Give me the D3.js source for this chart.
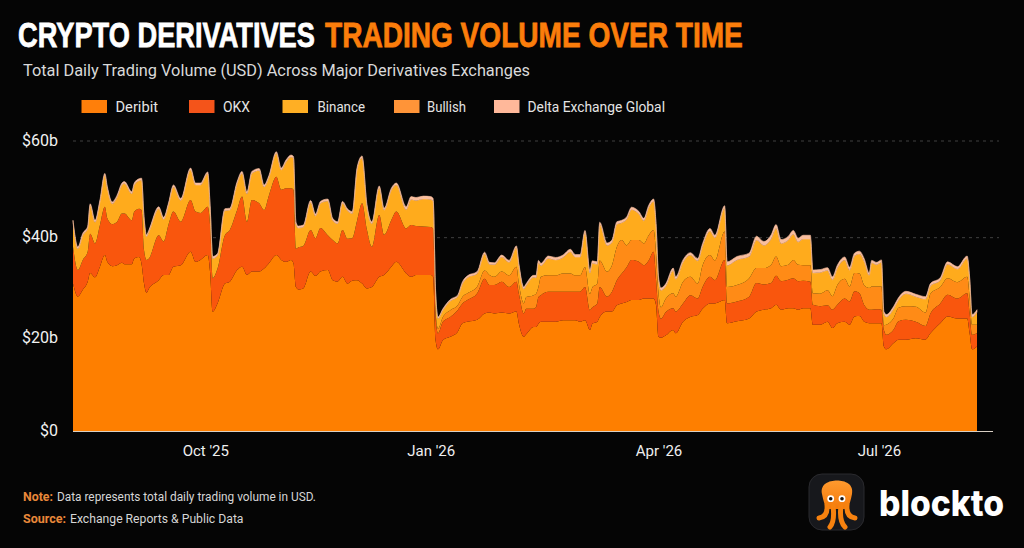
<!DOCTYPE html>
<html><head><meta charset="utf-8">
<script src="https://cdn.jsdelivr.net/npm/d3@7/dist/d3.min.js"></script>
<style>html,body{margin:0;padding:0;background:#050505;overflow:hidden}svg{display:block}</style>
</head><body><svg id="c" width="1024" height="548"></svg>
<script>
// days since 7 Aug 2025
const days=[0,2,4,6,7,9,11,13,14,16,
18,20,21,24,25,27,28,29,30,31,
35,37,39,41,44,48,50,52,55,56,
57,59,62,64,67,69,71,73,76,78,
80,83,85,87,89,90,91,92,94,97,
99,101,104,106,108,110,112,114,116,118,
120,122,125,127,130,132,136,138,140,143,
146,147,148,149,151,154,157,159,161,165,
168,170,172,175,178,181,182,184,185,188,
189,190,191,194,197,200,203,205,207,209,
211,212,214,215,218,220,222,224,226,228,
231,233,235,237,238,239,240,242,245,246,
249,252,255,257,260,262,266,267,271,276,
279,282,285,287,289,292,294,296,298,301,
302,305,308,310,312,315,317,319,321,323,
325,326,328,330,331,332,335,337,340,344,
348,350,354,357,361,365,366,367,369];
const deribit=[30.5,27.8,29.2,30.9,32.7,31.8,34.0,36.4,35.0,34.1,
34.3,34.8,34.5,34.5,35.7,36.0,34.5,30.5,28.6,29.5,
31.2,32.3,32.3,34.0,34.3,37.1,35.0,35.4,36.4,32.6,
24.7,26.4,30.5,30.9,33.3,34.0,32.3,33.0,33.0,33.6,
34.7,36.4,35.4,35.0,35.4,34.7,29.8,29.3,29.5,33.0,
32.1,33.0,33.3,31.2,30.9,31.9,30.5,31.1,31.2,30.5,
29.5,29.8,31.9,32.3,34.0,35.0,32.6,31.9,32.3,32.3,
32.3,31.9,18.8,16.9,18.8,19.5,20.5,22.3,22.6,23.0,
24.3,24.5,24.3,24.5,24.3,24.7,22.2,19.5,20.0,21.5,
21.5,22.2,22.6,22.6,22.6,22.9,22.9,22.9,22.6,22.9,
20.9,22.2,22.6,23.6,24.7,24.7,26.0,26.4,26.7,27.1,
27.1,27.4,27.4,27.4,26.0,19.5,19.3,19.8,20.9,20.2,
22.6,23.6,24.0,25.3,26.4,26.4,27.1,22.3,22.7,23.3,
24.7,25.1,25.4,26.1,25.1,25.4,25.4,25.1,25.4,25.4,
22.0,22.0,22.6,21.3,22.3,22.6,22.0,23.7,23.8,22.6,
22.3,22.3,22.3,22.3,17.5,16.9,18.2,18.9,18.9,19.2,
18.9,20.2,22.3,23.7,23.3,23.3,20.2,16.9,17.5];
const okx=[7.6,5.5,6.2,6.2,8.1,7.0,8.6,10.0,9.0,8.7,
9.0,10.2,10.5,9.1,9.7,10.0,11.2,6.9,6.8,6.2,
9.3,6.9,10.4,11.4,9.0,10.7,10.4,9.7,10.0,9.7,
6.9,7.2,10.0,10.7,12.4,14.5,11.0,14.8,14.1,12.1,
14.1,16.2,14.5,15.2,14.8,15.2,7.9,8.7,8.8,8.6,
7.8,9.0,7.2,8.3,7.9,9.7,9.3,8.8,12.4,16.6,
12.1,8.3,12.8,8.3,9.7,10.4,9.3,10.7,10.1,10.0,
9.9,10.0,4.8,3.3,3.8,4.1,4.5,4.1,4.5,5.5,
7.2,5.7,5.9,6.4,5.5,6.2,6.2,4.8,5.3,3.8,
4.1,5.5,5.5,6.2,6.2,5.9,5.9,5.9,6.2,6.9,
4.1,3.4,3.8,6.2,3.1,4.1,5.2,6.2,7.2,8.3,
7.9,6.9,7.9,9.7,5.2,5.2,3.9,4.8,4.5,4.5,
3.8,4.5,3.4,4.5,5.5,4.8,8.3,4.1,4.1,4.5,
5.9,5.2,5.2,6.0,5.9,5.9,6.2,5.9,5.7,5.5,
4.1,3.8,3.4,3.8,3.8,4.8,4.8,5.2,4.7,3.4,
2.8,2.8,2.9,2.8,3.4,3.0,2.8,3.8,4.1,3.4,
2.8,4.1,4.1,4.5,4.1,5.2,4.1,3.0,2.8];
const bullish=[0,0,0,0,0,0,0,0,0,0,
0,0,0,0,0,0,0,0,0,0,
0,0,0,0,0,0,0,0,0,0,
0,0,0,0,0,0,0,0,0,0,
0,0,0,0,0,0,0,0,0,0,
0,0,0,0,0,0,0,0,0,0,
0,0,0,0,0,0,0,0,0,0,
0,0,1.0,1.0,1.0,1.4,1.0,1.4,1.4,1.4,
1.7,2.1,1.7,2.1,2.4,3.1,2.1,2.1,2.4,2.8,
2.8,2.1,3.8,3.4,3.4,3.8,3.8,3.4,3.4,4.1,
3.4,4.1,4.1,5.5,5.2,5.5,6.9,6.9,4.5,4.1,
4.5,4.5,5.2,4.5,5.5,3.8,2.4,2.8,3.1,3.1,
4.5,3.8,3.1,4.5,4.5,4.1,5.9,3.4,3.4,3.8,
3.1,3.4,3.8,4.0,3.1,3.1,3.8,3.4,3.2,3.4,
2.4,2.6,3.1,2.8,4.1,4.1,3.1,3.8,4.1,4.1,
4.5,4.8,4.7,4.8,1.0,2.1,2.4,2.8,2.8,3.1,
2.8,4.1,3.4,3.4,3.4,3.4,3.4,2.1,1.7];
const binance=[5.1,4.4,5.1,4.8,5.8,4.4,4.8,6.5,6.2,4.2,
5.1,5.9,6.2,5.5,5.5,5.8,6.2,6.5,4.8,5.5,
5.5,4.6,4.1,5.1,4.4,6.2,5.5,5.8,6.8,3.7,
4.1,2.7,5.1,4.1,5.5,4.8,5.8,5.5,6.8,4.8,
3.7,4.8,4.1,5.5,6.5,6.5,5.1,4.0,3.9,5.7,
4.6,5.1,7.1,4.1,4.1,5.5,5.8,5.1,10.6,9.4,
4.8,4.8,5.6,5.1,6.2,5.5,3.9,5.3,5.3,5.7,
5.7,5.6,4.1,2.1,1.4,1.9,1.8,2.7,3.2,2.7,
3.4,2.2,2.5,3.0,2.7,3.9,3.7,3.0,2.4,3.7,
3.3,5.0,2.3,3.5,3.2,3.3,4.5,3.8,3.8,7.1,
4.3,5.0,4.0,7.4,5.4,4.7,4.7,3.6,5.4,6.3,
5.4,4.7,5.7,5.9,5.7,2.9,3.5,2.6,4.7,3.6,
4.0,4.5,4.7,4.0,5.0,4.7,4.8,4.5,5.2,4.5,
5.8,4.7,5.4,5.8,4.7,5.1,5.3,4.7,5.4,5.4,
4.2,4.4,4.1,3.4,3.5,3.9,3.4,3.5,4.0,4.9,
2.6,4.9,4.5,5.0,2.3,1.6,1.9,1.6,2.6,2.1,
2.8,1.6,1.4,2.9,2.7,3.8,3.6,1.6,2.6];
const delta=[.4,.4,.4,.4,.4,.4,.4,.4,.4,.4,
.4,.4,.4,.4,.4,.4,.4,.4,.4,.4,
.4,.4,.4,.4,.4,.4,.4,.4,.4,.4,
.4,.4,.4,.4,.4,.4,.4,.4,.4,.4,
.4,.4,.4,.4,.4,.4,.4,.4,.4,.4,
.4,.4,.4,.4,.4,.4,.4,.4,.4,.4,
.4,.4,.4,.4,.4,.4,.6,.6,.6,.6,
.6,.6,.4,.3,.3,.3,.3,.4,.4,.4,
.4,.4,.4,.4,.4,.4,.4,.4,.4,.4,
.5,.5,.5,.5,.5,.5,.5,.5,.5,.5,
.5,.5,.5,.5,.5,.5,.5,.5,.5,.5,
.5,.5,.5,.5,.5,.5,.5,.5,.5,.5,
.5,.5,.5,.5,.5,.5,.5,.7,.7,.7,
.8,.8,.8,.8,.8,.8,.8,.8,.8,.8,
.6,.6,.6,.6,.6,.6,.6,.6,.6,.6,
.5,.5,.5,.5,.5,.5,.5,.5,.5,.5,
.5,.5,.5,.5,.5,.5,.5,.5,.5];
const legendNames=["Deribit","OKX","Binance","Bullish","Delta Exchange Global"];
const legendColors=["#FF7F0A","#F4541A","#FFAF24","#FF9438","#FFB89A"];
const areaColors={deribit:"#FE7F06",okx:"#F9560E",bullish:"#FF8B12",binance:"#FFAB1E",delta:"#F9BE9E"};
const yTicks=[0,20,40,60];
const xTickDates=[["2025-09-30","Oct '25"],["2025-12-31","Jan '26"],["2026-04-03","Apr '26"],["2026-07-02","Jul '26"]];

const start=new Date(Date.UTC(2025,7,7));
const rows=days.map((d,i)=>({date:d3.utcDay.offset(start,d),deribit:deribit[i],okx:okx[i],bullish:bullish[i],binance:binance[i],delta:delta[i]}));
const svg=d3.select("#c");
const defs=svg.append("defs");
defs.append("filter").attr("id","soft").attr("x","-2%").attr("y","-2%").attr("width","104%").attr("height","104%")
 .append("feGaussianBlur").attr("stdDeviation",.55);
const grad=defs.append("linearGradient").attr("id","head").attr("x1",0).attr("x2",0).attr("y1",0).attr("y2",1);
grad.append("stop").attr("offset",0).attr("stop-color","#FF9A2E");
grad.append("stop").attr("offset",1).attr("stop-color","#F47A0C");
svg.append("rect").attr("width",1024).attr("height",548).attr("fill","#050505");
const x=d3.scaleUtc().domain([start,d3.utcDay.offset(start,369)]).range([73,977]);
const y=d3.scaleLinear().domain([0,60]).range([431,141]);

// grid
svg.append("g").selectAll("line").data([40,60]).join("line")
 .attr("x1",73).attr("x2",999).attr("y1",d=>y(d)).attr("y2",d=>y(d))
 .attr("stroke","#5a5a5a").attr("stroke-width",1).attr("stroke-dasharray","3 4").attr("opacity",.7);

// stack
const keys=["deribit","okx","bullish","binance","delta"];
const stacked=d3.stack().keys(keys)(rows);
const area=d3.area().x(d=>x(d.data.date)).y0(d=>y(d[0])).y1(d=>y(d[1])).curve(d3.curveMonotoneX);
svg.append("g").attr("filter","url(#soft)").selectAll("path").data(stacked).join("path")
 .attr("d",area).attr("fill",d=>areaColors[d.key])
 .attr("stroke",d=>d.key==="delta"?areaColors.delta:"none").attr("stroke-width",.6);

// axes
const font="Roboto,'Noto Sans',sans-serif";
const yAxis=d3.axisLeft(y).tickValues(yTicks).tickSize(0).tickPadding(0).tickFormat(d=>"$"+d+(d?"b":""));
const gy=svg.append("g").attr("transform","translate(58,-1)").call(yAxis);
gy.select(".domain").remove();
gy.selectAll("text").attr("fill","#f2f2f2").attr("font-family",font).attr("font-size",16).attr("y",d=>d===20?4:0);

const xAxis=d3.axisBottom(x).tickValues(xTickDates.map(d=>new Date(d[0]+"T00:00:00Z"))).tickSize(0).tickPadding(0)
 .tickFormat((d,i)=>xTickDates[i][1]);
const gx=svg.append("g").attr("transform","translate(0,431)").call(xAxis);
gx.select(".domain").remove();
gx.selectAll("text").attr("y",25).attr("dy",0).attr("fill","#efefef").attr("font-family",font).attr("font-size",15);
svg.append("line").attr("x1",73).attr("x2",993).attr("y1",431.5).attr("y2",431.5).attr("stroke","#d8cfc4").attr("stroke-width",1);

// titles
const narrow="'Liberation Sans Narrow','Liberation Sans',sans-serif";
function txt(s,xp,yp,size,fill,opts={}){
 const t=svg.append("text").attr("x",xp).attr("y",yp).attr("font-size",size).attr("fill",fill)
  .attr("font-family",opts.font||font).attr("font-weight",opts.weight||400).text(s);
 if(opts.w){t.attr("textLength",opts.w).attr("lengthAdjust","spacingAndGlyphs");}
 if(opts.bold){t.attr("stroke",fill).attr("stroke-width",opts.bold);}
 return t;
}
// title runs are squeezed to width with a transform so their boxes stay apart
function title(s,xp,yp,size,fill,w){
 const t=txt(s,0,0,size,fill,{font:narrow,weight:700,bold:.8});
 const sx=w/t.node().getComputedTextLength();
 t.attr("transform",`translate(${xp},${yp}) scale(${sx},1)`);
}
title("CRYPTO DERIVATIVES",18,47,36,"#ffffff",297);
title("TRADING VOLUME OVER TIME",325,47,36,"#FB7D0B",418);
txt("Total Daily Trading Volume (USD) Across Major Derivatives Exchanges",23,76,17,"#d9d9d9",{w:507});

// legend
const lx=[81.5,189,282.5,394,494], ltx=[115.5,223,317.5,427,527.5], ltw=[42.5,27,47.5,39,137.5];
const lg=svg.append("g");
lg.selectAll("rect").data(legendNames).join("rect").attr("x",(d,i)=>lx[i]).attr("y",100).attr("width",25.5).attr("height",13).attr("fill",(d,i)=>legendColors[i]);
legendNames.forEach((n,i)=>txt(n,ltx[i],112,14,"#e4e4e4",{w:ltw[i]}));

// notes
txt("Note:",23,501,12.5,"#E9883A",{weight:700,w:30});
txt("Data represents total daily trading volume in USD.",57,501,12.5,"#d6d6d6",{w:259});
txt("Source:",23,523,12.5,"#E9883A",{weight:700,w:43});
txt("Exchange Reports & Public Data",70,523,12.5,"#d6d6d6",{w:173.5});

// logo
const lo=svg.append("g");
lo.append("rect").attr("x",809).attr("y",474).attr("width",55).attr("height",56).attr("rx",13).attr("fill","#17181c").attr("stroke","#2a2a2e");
const oct="#F7820F";
lo.append("path").attr("d","M822 494 C820 484 829 480.5 837 480.5 C845 480.5 854 484 852 494 C851 500 849 505 848 509 L826 509 C825 505 823 500 822 494Z").attr("fill","url(#head)");
["M827 505 Q828 517 819 518","M833 506 Q835 521 830 527","M841 506 Q839 521 845 527","M847 505 Q846 517 855 518"].forEach(p=>
 lo.append("path").attr("d",p).attr("fill","none").attr("stroke",oct).attr("stroke-width",5).attr("stroke-linecap","round"));
[830.7,842].forEach(c=>{
 lo.append("circle").attr("cx",c).attr("cy",498.7).attr("r",3.4).attr("fill","#fff");
 lo.append("circle").attr("cx",c).attr("cy",498.7).attr("r",1.8).attr("fill","#1b1410");
});
txt("blockto",879,516,36,"#ffffff",{font:"Inter,Lato,sans-serif",weight:800,w:125});
</script></body></html>
